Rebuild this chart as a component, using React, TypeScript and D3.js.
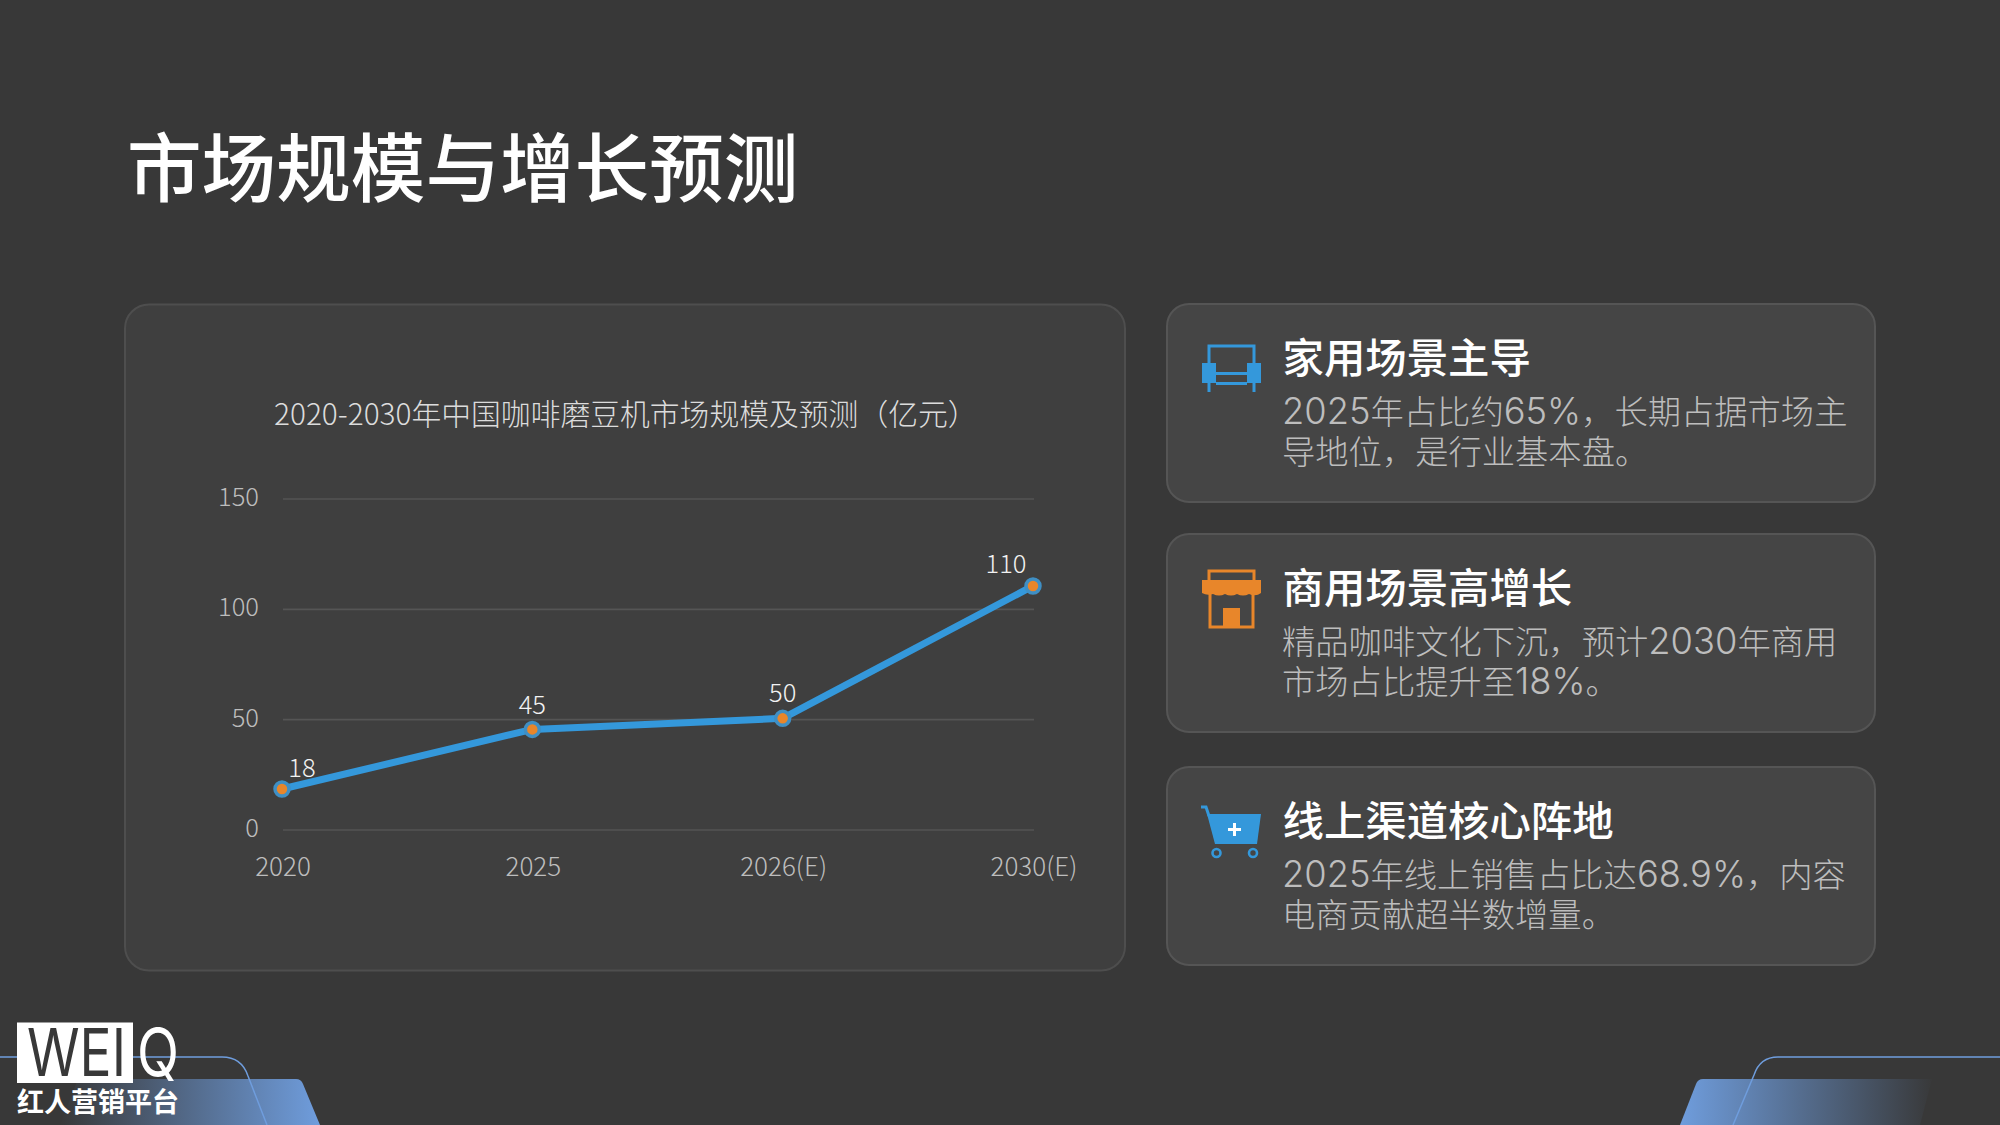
import React from "react";
import * as d3 from "d3";

const pageTitle = "市场规模与增长预测";
const chartTitle = "2020-2030年中国咖啡磨豆机市场规模及预测（亿元）";
const categories = ["2020", "2025", "2026(E)", "2030(E)"];
const marketValues = [18, 45, 50, 110];
const yTicks = [0, 50, 100, 150];
const cardTitles = ["家用场景主导", "商用场景高增长", "线上渠道核心阵地"];
const cardLines = [
  ["2025年占比约65%，长期占据市场主", "导地位，是行业基本盘。"],
  ["精品咖啡文化下沉，预计2030年商用", "市场占比提升至18%。"],
  ["2025年线上销售占比达68.9%，内容", "电商贡献超半数增量。"],
];
const cardTops = [304, 534, 767];

const SANS = "'Noto Sans CJK SC','Noto Sans',sans-serif";
const BODY = "'Inter','Noto Sans CJK SC',sans-serif";
const BLUE = "#3498db";
const ORANGE = "#e8862a";
const MARK_SHIFT = -1.3;

const x = d3.scalePoint<string>().domain(categories).range([282, 1033]);
const y = d3.scaleLinear().domain([0, 150]).range([830, 499]);
const line = d3
  .line<number>()
  .x((_, i) => x(categories[i]) as number)
  .y((d) => y(d) + MARK_SHIFT);

function Sofa() {
  return (
    <g>
      <path d="M1209 363V346H1254V363" fill="none" stroke={BLUE} strokeWidth={3} />
      <rect x={1202} y={363} width={14} height={20} fill={BLUE} />
      <rect x={1247} y={363} width={14} height={20} fill={BLUE} />
      <rect x={1216} y={372} width={31} height={3} fill={BLUE} />
      <rect x={1216} y={382} width={31} height={3} fill={BLUE} />
      <rect x={1207.5} y={383} width={3} height={9} fill={BLUE} />
      <rect x={1252.5} y={383} width={3} height={9} fill={BLUE} />
    </g>
  );
}
function Shop() {
  return (
    <g>
      <rect x={1209} y={571} width={45} height={12} fill="none" stroke={ORANGE} strokeWidth={3} />
      <path d="M1202 580H1261V593Q1256 597 1249 594Q1243 597 1237 594Q1231 597 1225 594Q1219 597 1213 594Q1207 596 1202 593Z" fill={ORANGE} />
      <path d="M1210 594V627H1253V594" fill="none" stroke={ORANGE} strokeWidth={3} />
      <rect x={1223} y={608} width={17} height={20} fill={ORANGE} />
    </g>
  );
}
function Cart() {
  return (
    <g>
      <path d="M1201 807H1206L1209 816" fill="none" stroke={BLUE} strokeWidth={3} />
      <path d="M1207 814H1261L1257 844H1215Z" fill={BLUE} />
      <path d="M1228 829.5H1241M1234.5 823V836" stroke="#fff" strokeWidth={3} />
      <circle cx={1216.5} cy={853} r={4} fill="none" stroke={BLUE} strokeWidth={2.6} />
      <circle cx={1253} cy={853} r={4} fill="none" stroke={BLUE} strokeWidth={2.6} />
    </g>
  );
}
const icons = [<Sofa />, <Shop />, <Cart />];

function runs(s: string) {
  return s.split(/([0-9.%]+)/).filter(Boolean).map((r, i) =>
    /^[0-9.%]+$/.test(r) ? (
      <tspan key={i} fontSize={36.3}>{r}</tspan>
    ) : (
      <tspan key={i}>{r}</tspan>
    )
  );
}

export default function App() {
  const labelDx = [20, 0, 0, -27];
  const labelDy = [-13, -16.5, -17.5, -14];
  return (
    <svg width={2000} height={1125} viewBox="0 0 2000 1125" style={{ position: "absolute", left: 0, top: 0 }}>
      <defs>
        <linearGradient id="gl" gradientUnits="userSpaceOnUse" x1={60} x2={320} y1={0} y2={0}>
          <stop offset="0" stopColor="#6f9ddd" stopOpacity={0} />
          <stop offset="1" stopColor="#6f9ddd" />
        </linearGradient>
        <linearGradient id="gr" gradientUnits="userSpaceOnUse" x1={1680} x2={1935} y1={0} y2={0}>
          <stop offset="0" stopColor="#6f9ddd" />
          <stop offset="1" stopColor="#6f9ddd" stopOpacity={0} />
        </linearGradient>
      </defs>
      <rect width={2000} height={1125} fill="#383838" />

      <text x={127} y={196} fontSize={74.6} fontFamily={SANS} fontWeight={500} fill="#fff">{pageTitle}</text>

      <rect x={125} y={304.5} width={1000} height={666} rx={24} fill="#3f3f3f" stroke="#4e4e4e" strokeWidth={2} />
      <text x={274} y={425} fontSize={29.8} fontFamily={SANS} fontWeight={300} fill="#dcdcdc">{chartTitle}</text>

      {yTicks.map((t) => (
        <g key={t}>
          <line x1={283} x2={1034} y1={y(t)} y2={y(t)} stroke="#555" strokeWidth={1.6} />
          <text x={259} y={y(t) + 7} textAnchor="end" fontSize={25.5} fontFamily={SANS} fontWeight={300} fill="#bdbdbd">{t}</text>
        </g>
      ))}
      {categories.map((c) => (
        <text key={c} x={(x(c) as number) + 1} y={876} textAnchor="middle" fontSize={26} fontFamily={SANS} fontWeight={300} fill="#bdbdbd">{c}</text>
      ))}
      <path d={line(marketValues) as string} fill="none" stroke={BLUE} strokeWidth={7} strokeLinejoin="round" />
      {marketValues.map((v, i) => (
        <g key={i}>
          <circle cx={x(categories[i])} cy={y(v) + MARK_SHIFT} r={7} fill={ORANGE} stroke="#3f8fc4" strokeWidth={3.5} />
          <text x={(x(categories[i]) as number) + labelDx[i]} y={y(v) + labelDy[i]} textAnchor="middle" fontSize={25.5} fontFamily={SANS} fontWeight={300} fill="#f2f2f2">{v}</text>
        </g>
      ))}

      {cardTops.map((top, i) => (
        <g key={i}>
          <rect x={1167} y={top} width={708} height={198} rx={22} fill="#454545" stroke="#555" strokeWidth={2} />
          {icons[i]}
          <text x={1282.5} y={top + 68.5} fontSize={41.4} fontFamily={SANS} fontWeight={500} fill="#fff">{cardTitles[i]}</text>
          {cardLines[i].map((l, j) => (
            <text key={j} x={1282} y={top + 120 + j * 39.5} fontSize={33.3} fontFamily={BODY} fontWeight={300} fill="#bdbdbd">{runs(l)}</text>
          ))}
        </g>
      ))}

      <path d="M60 1125L78 1079H296Q301 1079 303 1084L320 1125Z" fill="url(#gl)" />
      <path d="M0 1057H222C236 1057 244 1064 248 1076L267 1125" fill="none" stroke="#6f9ddd" strokeWidth={1.5} />
      <path d="M1680 1125L1696 1084Q1698 1079 1703 1079H1932L1920 1125Z" fill="url(#gr)" />
      <path d="M2000 1057H1778C1766 1057 1758 1063 1754 1075L1733 1125" fill="none" stroke="#6f9ddd" strokeWidth={1.5} />

      <rect x={17} y={1022.5} width={116} height={60.5} fill="#fff" />
      <text x={27} y={1076} fontSize={66} fontFamily="'Inter',sans-serif" fontWeight={400} fill="#383838" textLength={99} lengthAdjust="spacingAndGlyphs">WEI</text>
      <text x={137} y={1076} fontSize={66} fontFamily="'Inter',sans-serif" fontWeight={400} fill="#fff" textLength={42} lengthAdjust="spacingAndGlyphs">Q</text>
      <text x={17} y={1112} fontSize={27} fontFamily={SANS} fontWeight={700} fill="#fff">红人营销平台</text>
    </svg>
  );
}
